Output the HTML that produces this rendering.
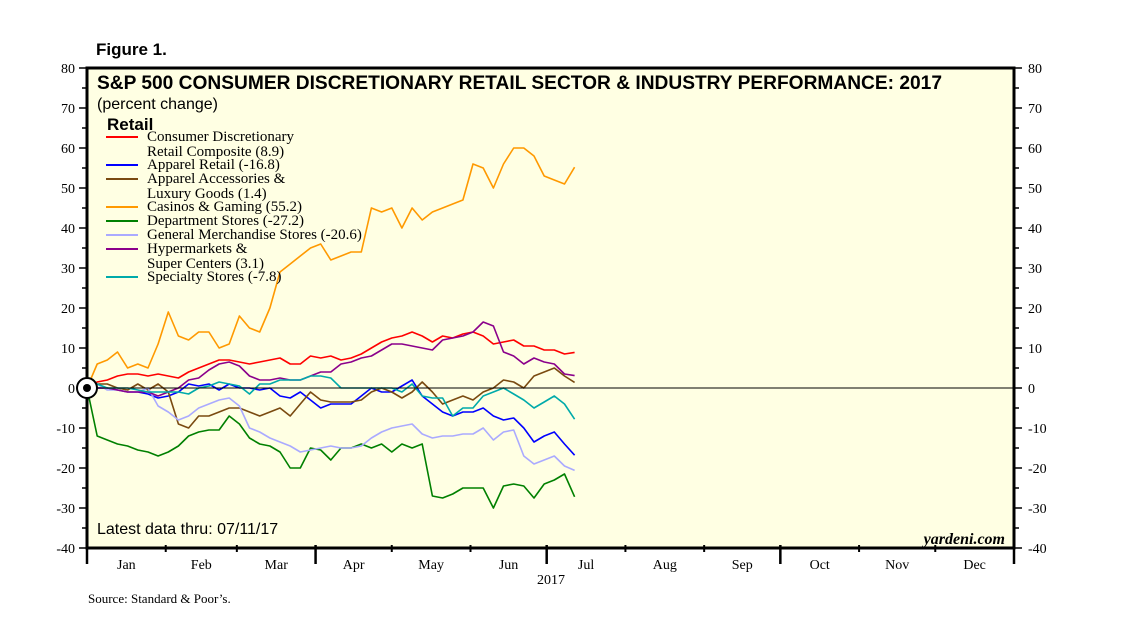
<!DOCTYPE html>
<html><head><meta charset="utf-8"><style>
body{margin:0;background:#fff;}
svg{display:block;}
text{font-family:"Liberation Sans",sans-serif;}
.serif{font-family:"Liberation Serif",serif;}
</style></head><body>
<svg id="chart" width="1138" height="629" xmlns="http://www.w3.org/2000/svg">
<text x="96" y="55" font-size="17" font-weight="bold">Figure 1.</text>
<rect x="87" y="68" width="927" height="480" fill="#FFFFE3"/>
<g id="axes"></g>
<g id="series"></g>
<rect x="87" y="68" width="927" height="480" fill="none" stroke="#000" stroke-width="3"/>
<line x1="87" x2="1014" y1="388" y2="388" stroke="#000" stroke-width="1"/>
<circle cx="87" cy="388" r="10" fill="#fff" stroke="#000" stroke-width="2"/>
<circle cx="87" cy="388" r="4" fill="#000"/>
<text x="97" y="89" font-size="19" font-weight="bold" textLength="845" lengthAdjust="spacingAndGlyphs">S&amp;P 500 CONSUMER DISCRETIONARY RETAIL SECTOR &amp; INDUSTRY PERFORMANCE: 2017</text>
<text x="97" y="109" font-size="16">(percent change)</text>
<text x="107" y="130" font-size="17" font-weight="bold">Retail</text>
<g id="legend"></g>
<text x="97" y="534" font-size="16">Latest data thru: 07/11/17</text>
<text x="1005" y="544" font-size="16" font-style="italic" font-weight="bold" text-anchor="end" class="serif">yardeni.com</text>
<text x="551" y="584" font-size="14" text-anchor="middle" class="serif">2017</text>
<text x="88" y="603" font-size="13" class="serif">Source: Standard &amp; Poor’s.</text>
</svg>
<script>
const yTicks=[80,70,60,50,40,30,20,10,0,-10,-20,-30,-40];
const months=["Jan","Feb","Mar","Apr","May","Jun","Jul","Aug","Sep","Oct","Nov","Dec"];
const monthStarts=[0,31,59,90,120,151,181,212,243,273,304,334,365];
const days=[0,4,8,12,16,20,24,28,32,36,40,44,48,52,56,60,64,68,72,76,80,84,88,92,96,100,104,108,112,116,120,124,128,132,136,140,144,148,152,156,160,164,168,172,176,180,184,188,192];
const composite=[0,1.5,2,3,3.5,3.5,3,3.5,3,2.5,4,5,6,7,7,6.5,6,6.5,7,7.5,6,6,8,7.5,8,7,7.5,8.5,10,11.5,12.5,13,14,13,11.5,13,12.5,13.5,14,13,11,11.5,12,10.5,10.5,9.5,9.5,8.5,8.9];
const apparel=[0,0,0,-0.5,-1,-1,-1.5,-2.5,-2,-1,1,0.5,1,-0.5,1,0,0,-0.5,0,-2,-2.5,-1,-3,-5,-4,-4,-4,-2,0,-1,-1,0.5,2,-2,-4,-6,-7,-6,-6,-5,-7,-8,-7.5,-10,-13.5,-12,-11,-14,-16.8];
const accessories=[0,1,1,0,-0.5,1,-0.5,1,-1,-9,-10,-7,-7,-6,-5,-5,-6,-7,-6,-5,-7,-4,-1,-3,-3.5,-3.5,-3.5,-3,-1,0,-1,-2.5,-1,1.5,-1,-4,-3,-2,-3,-1,0,2,1.5,0,3,4,5,3,1.4];
const casinos=[0,6,7,9,5,6,5,11,19,13,12,14,14,10,11,18,15,14,20,29,31,33,35,36,32,33,34,34,45,44,45,40,45,42,44,45,46,47,56,55,50,56,60,60,58,53,52,51,55.2];
const department=[0,-12,-13,-14,-14.5,-15.5,-16,-17,-16,-14.5,-12,-11,-10.5,-10.5,-7,-9,-12.5,-14,-14.5,-16,-20,-20,-15,-15.5,-18,-15,-15,-14,-15,-14,-16,-14,-15,-14,-27,-27.5,-26.5,-25,-25,-25,-30,-24.5,-24,-24.5,-27.5,-24,-23,-21.5,-27.2];
const generalMerch=[0,1,-0.5,-0.5,-1,-1,0,-4.5,-6,-8,-7,-5,-4,-3,-2.5,-4.5,-10,-11,-12.5,-13.5,-14.5,-16,-15.5,-15,-14.5,-15,-15,-14.5,-12.5,-11,-10,-9.5,-9,-11.5,-12.5,-12,-12,-11.5,-11.5,-10,-13,-11,-10.5,-17,-19,-18,-17,-19.5,-20.6];
const hypermarkets=[0,0,0,-0.5,-1,-1,-1,-2,-1,0,2,2.5,4.5,6,6.5,5.5,3,2,2,2.5,2,2,3,4,4,6,6.5,7.5,8,9.5,11,11,10.5,10,9.5,12,12.5,13,14,16.5,15.5,9,8,6,7.5,6.5,6,3.5,3.1];
const specialty=[0,1,0,0,0,-0.5,-1,-1,-1,-1,-1.5,0,0.5,1.5,1,0.5,-1.5,1,1,2,2,2,3,3,2.5,0,0,0,0,0,0,-1,1,-2,-2.5,-2.5,-7,-5,-5,-2,-1,0,-1.5,-3,-5,-3.5,-2,-4,-7.8];
const seriesNames=["Consumer Discretionary|Retail Composite (8.9)","Apparel Retail (-16.8)","Apparel Accessories &|Luxury Goods (1.4)","Casinos & Gaming (55.2)","Department Stores (-27.2)","General Merchandise Stores (-20.6)","Hypermarkets &|Super Centers (3.1)","Specialty Stores (-7.8)"];
const seriesData=[composite,apparel,accessories,casinos,department,generalMerch,hypermarkets,specialty];
const colors=["#ff0000","#0000ff","#7a4a10","#ff9900","#008000","#aaaaff","#8b008b","#00aaaa"];
const keys=["composite","apparel-retail","apparel-accessories","casinos-gaming","department-stores","general-merchandise","hypermarkets","specialty-stores"];
const NS="http://www.w3.org/2000/svg";
const X0=87,X1=1014,Y0=68,Y1=548;
const xs=d=>X0+d*(X1-X0)/365;
const ys=v=>Y0+(80-v)*(Y1-Y0)/120;
function mk(tag,attrs,parent){const e=document.createElementNS(NS,tag);for(const k in attrs)e.setAttribute(k,attrs[k]);parent.appendChild(e);return e;}
const axes=document.getElementById("axes");
for(let v=-40;v<=80;v+=5){
  const major=v%10===0;const len=major?8:5;
  let t=mk("line",{x1:X0-len,x2:X0,y1:ys(v),y2:ys(v),stroke:"#000","stroke-width":1.5},axes);
  
  
  t=mk("line",{x1:X1,x2:X1+len,y1:ys(v),y2:ys(v),stroke:"#000","stroke-width":1.5},axes);
  
  
}
yTicks.forEach(v=>{
  let t=mk("text",{x:X0-12,y:ys(v)+5,"font-size":14,"text-anchor":"end",class:"serif"},axes);t.textContent=v;
  
  
  t=mk("text",{x:X1+14,y:ys(v)+5,"font-size":14,class:"serif"},axes);t.textContent=v;
  
  
});
monthStarts.forEach((d,i)=>{
  const q=i%3===0;
  const t=mk("line",{x1:xs(d),x2:xs(d),y1:Y1-3,y2:Y1+(q?16:4),stroke:"#000","stroke-width":q?2.5:2},axes);
  
  
});
months.forEach((m,i)=>{
  const t=mk("text",{x:(xs(monthStarts[i])+xs(monthStarts[i+1]))/2,y:569,"font-size":14,"text-anchor":"middle",class:"serif"},axes);t.textContent=m;
  
  
});
const sg=document.getElementById("series");
seriesData.forEach((vals,i)=>{
  const p=mk("polyline",{points:vals.map((v,j)=>xs(days[j]).toFixed(1)+","+ys(v).toFixed(1)).join(" "),fill:"none",stroke:colors[i],"stroke-width":1.6,"stroke-linejoin":"round"},sg);
  
  
});
const lg=document.getElementById("legend");
let ly=141;
seriesNames.forEach((n,i)=>{
  const g=mk("g",{},lg);
  
  
  mk("line",{x1:106,x2:138,y1:ly-4,y2:ly-4,stroke:colors[i],"stroke-width":2},g);
  n.split("|").forEach((s,k)=>{const t=mk("text",{x:147,y:ly+k*15,"font-size":15,class:"serif"},g);t.textContent=s;});
  ly+=n.includes("|")?28:14;
});
</script>
</body></html>
